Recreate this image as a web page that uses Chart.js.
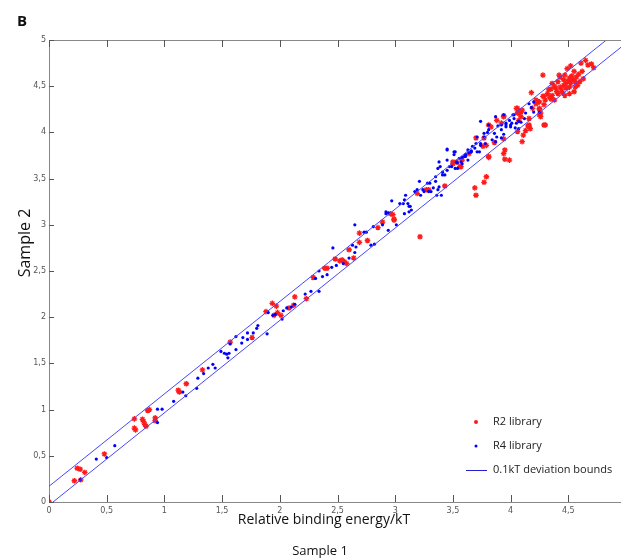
<!DOCTYPE html>
<html>
<head>
<meta charset="utf-8">
<script src="https://cdn.jsdelivr.net/npm/chart.js@4.4.1/dist/chart.umd.min.js"></script>
<style>
  html, body { margin: 0; padding: 0; background: #fff; overflow: hidden; }
  #wrap { width: 640px; height: 559px; }
</style>
</head>
<body>
<div id="wrap"><canvas id="chart" width="640" height="559"></canvas></div>
<script>
// --- data ---
const xTicks = [0, 0.5, 1, 1.5, 2, 2.5, 3, 3.5, 4, 4.5, 5];
const yTicks = [0, 0.5, 1, 1.5, 2, 2.5, 3, 3.5, 4, 4.5, 5];

// R2 library (red), pairs [sample1, sample2]
const r2Points = [
  [0, 0], [0.22, 0.23], [0.245, 0.365], [0.27, 0.355], [0.275, 0.24], [0.31, 0.32],
  [0.48, 0.52], [0.74, 0.90], [0.74, 0.80], [0.75, 0.78], [0.81, 0.895], [0.82, 0.87],
  [0.83, 0.84], [0.84, 0.82], [0.855, 0.99], [0.87, 1.00], [0.92, 0.91], [0.92, 0.88],
  [1.12, 1.21], [1.13, 1.19], [1.19, 1.28], [1.33, 1.43], [1.57, 1.73], [1.76, 1.78],
  [1.88, 2.06], [1.935, 2.15], [1.97, 2.12], [1.95, 2.02], [1.98, 2.05], [2.01, 2.02],
  [2.08, 2.10], [2.13, 2.22], [2.12, 2.13], [2.23, 2.20], [2.29, 2.43], [2.39, 2.53],
  [2.41, 2.53], [2.48, 2.63], [2.52, 2.61], [2.54, 2.62], [2.56, 2.60], [2.58, 2.58],
  [2.60, 2.73], [2.64, 2.64], [2.69, 2.91], [2.69, 2.81], [2.76, 2.83], [2.85, 2.97],
  [2.89, 3.03], [2.96, 3.12], [2.99, 3.05], [2.98, 3.11], [2.99, 3.06], [3.19, 3.34],
  [3.215, 2.87], [3.27, 3.38], [3.29, 3.38], [3.43, 3.42], [3.50, 3.66], [3.53, 3.68],
  [3.56, 3.63], [3.58, 3.70], [3.50, 3.68], [3.57, 3.63], [3.64, 3.77], [3.70, 3.94],
  [3.69, 3.40], [3.70, 3.32], [3.77, 3.46], [3.79, 3.52], [3.76, 3.85], [3.79, 3.86],
  [3.81, 3.73], [3.86, 3.89], [3.88, 4.13], [3.94, 4.17], [3.94, 3.93], [3.95, 3.81],
  [3.95, 3.71], [3.81, 4.08], [3.83, 4.06], [3.92, 4.10], [3.77, 3.94], [3.94, 3.77],
  [3.99, 3.70], [3.81, 3.74], [4.07, 4.13], [4.06, 4.26], [4.09, 4.22], [4.10, 3.90],
  [4.11, 3.97], [4.13, 4.02], [4.15, 4.07], [4.17, 4.04], [4.18, 4.43], [4.22, 4.35],
  [4.24, 4.33], [4.25, 4.25], [4.26, 4.21], [4.26, 4.17], [4.28, 4.62], [4.29, 4.39],
  [4.30, 4.08], [4.05, 4.26], [4.07, 4.21], [4.16, 4.06], [4.06, 4.01],
  [4.49, 4.69], [4.52, 4.72], [4.61, 4.75], [4.65, 4.78], [4.67, 4.73], [4.55, 4.66],
  [4.59, 4.63], [4.43, 4.60], [4.46, 4.57], [4.51, 4.59], [4.54, 4.57], [4.48, 4.53],
  [4.52, 4.53], [4.56, 4.55], [4.41, 4.55], [4.36, 4.53], [4.43, 4.49], [4.39, 4.48],
  [4.48, 4.48], [4.51, 4.49], [4.58, 4.51], [4.33, 4.46], [4.41, 4.42], [4.45, 4.43],
  [4.36, 4.40], [4.32, 4.42], [4.28, 4.39], [4.30, 4.35], [4.25, 4.33], [4.35, 4.36],
  [4.51, 4.42], [4.55, 4.44], [4.22, 4.31], [4.19, 4.26], [4.25, 4.26], [4.29, 4.30],
  [4.10, 4.24], [4.06, 4.21], [4.09, 4.17], [4.16, 4.15], [4.25, 4.19], [3.94, 4.18],
  [4.16, 4.08], [4.29, 4.08], [4.38, 4.50], [4.46, 4.51], [4.50, 4.56], [4.53, 4.61],
  [4.57, 4.60], [4.44, 4.46], [4.40, 4.44], [4.47, 4.40], [4.34, 4.38], [4.38, 4.35],
  [4.62, 4.66], [4.70, 4.74], [4.72, 4.70], [4.63, 4.58], [4.42, 4.62], [4.35, 4.47],
  [4.47, 4.62], [4.56, 4.49], [4.60, 4.55]
];

// R4 library (blue)
const r4Points = [
  [0.27, 0.24], [0.41, 0.465], [0.50, 0.48], [0.57, 0.61], [0.94, 1.005], [0.98, 1.005],
  [0.94, 0.86], [1.08, 1.09], [1.16, 1.19], [1.185, 1.15], [1.28, 1.23], [1.29, 1.34],
  [1.34, 1.39], [1.38, 1.45], [1.42, 1.49], [1.44, 1.45], [1.49, 1.63], [1.52, 1.61],
  [1.54, 1.60], [1.56, 1.61], [1.55, 1.56], [1.57, 1.71], [1.62, 1.65], [1.62, 1.79],
  [1.68, 1.78], [1.67, 1.72], [1.72, 1.83], [1.72, 1.76], [1.77, 1.83], [1.80, 1.88],
  [1.81, 1.91], [1.89, 1.82], [1.90, 2.05], [1.94, 2.02], [1.96, 2.03], [2.02, 1.98],
  [2.06, 2.10], [2.03, 2.07], [2.10, 2.11], [2.13, 2.14], [2.22, 2.25], [2.27, 2.28],
  [2.34, 2.28], [2.31, 2.42], [2.34, 2.50], [2.37, 2.44], [2.41, 2.46], [2.45, 2.54],
  [2.46, 2.75], [2.49, 2.56], [2.55, 2.58], [2.60, 2.64], [2.65, 2.70], [2.63, 2.78],
  [2.66, 2.76], [2.65, 3.00], [2.73, 2.92], [2.75, 2.92], [2.79, 2.78], [2.82, 2.79],
  [2.81, 2.98], [2.89, 3.00], [2.94, 2.94], [2.92, 3.12], [2.94, 3.13], [3.01, 3.00],
  [2.97, 3.26], [3.07, 3.23], [3.09, 3.32], [3.12, 3.20], [3.12, 3.14], [3.08, 3.12],
  [3.19, 3.38], [3.21, 3.47], [3.25, 3.36], [3.37, 3.38], [3.36, 3.32], [2.92, 3.14],
  [3.04, 3.23], [3.08, 3.27], [3.11, 3.23], [3.13, 3.20], [3.14, 3.16], [3.17, 3.36],
  [3.24, 3.38], [3.22, 3.32], [3.29, 3.36], [3.31, 3.36], [3.38, 3.41], [3.40, 3.32],
  [3.35, 3.52], [3.37, 3.61], [3.39, 3.63], [3.41, 3.57], [3.41, 3.54], [3.43, 3.54],
  [3.45, 3.59], [3.45, 3.70], [3.45, 3.82], [3.51, 3.76], [3.52, 3.79], [3.54, 3.67],
  [3.60, 3.74], [3.61, 3.76], [3.63, 3.70], [3.63, 3.81], [3.64, 3.78], [3.66, 3.79],
  [3.49, 3.63], [3.52, 3.61], [3.54, 3.61], [3.58, 3.73], [3.67, 3.85], [3.70, 3.88],
  [3.71, 3.79], [3.74, 4.12], [3.74, 3.86], [3.77, 3.95], [3.81, 4.03], [3.86, 3.99],
  [3.87, 3.90], [3.89, 4.07], [3.92, 4.03], [3.96, 4.06], [3.99, 4.13], [4.01, 4.10],
  [4.02, 4.19], [4.05, 4.10], [4.04, 4.05], [4.18, 4.27], [4.20, 4.33], [4.16, 4.31],
  [4.20, 4.22], [4.12, 4.15], [4.07, 4.12], [4.03, 4.19], [3.96, 4.08], [3.92, 4.08],
  [4.00, 4.08], [4.25, 4.22], [3.81, 4.08], [3.87, 4.17], [3.94, 4.19], [3.96, 4.10],
  [4.00, 4.06], [4.03, 4.15], [4.07, 4.04], [4.13, 4.21], [4.09, 4.11], [3.71, 3.95],
  [3.77, 3.99], [3.80, 4.00], [3.74, 3.88], [3.78, 3.88], [3.84, 3.92], [3.88, 3.95],
  [3.92, 3.94], [3.94, 3.98], [3.69, 3.83], [3.73, 3.79], [3.66, 3.80], [3.61, 3.74],
  [3.555, 3.72], [3.51, 3.79], [3.45, 3.81], [3.53, 3.68], [3.58, 3.66], [3.47, 3.63],
  [3.38, 3.68], [3.57, 3.68], [3.30, 3.45], [3.28, 3.45], [3.33, 3.40], [3.35, 3.47]
];

// 0.1kT deviation bounds (end points of the two straight lines)
const upperBound = [[0, 0.17], [5, 5.17]];
const lowerBound = [[0, -0.035], [5, 4.965]];

const toXY = arr => arr.map(p => ({ x: p[0], y: p[1] }));
const comma = v => String(v).replace('.', ',');

// top frame line and inward ticks
const frame = {
  id: 'frame',
  afterDatasetsDraw(chart) {
    const { ctx, chartArea: a, scales: { x, y } } = chart;
    ctx.save();
    ctx.lineWidth = 1;
    ctx.strokeStyle = '#888';
    ctx.beginPath();
    ctx.moveTo(a.left, a.top + 0.5);
    ctx.lineTo(a.right, a.top + 0.5);
    ctx.stroke();

    ctx.strokeStyle = '#555';
    ctx.beginPath();
    for (const v of xTicks) {
      const px = Math.round(x.getPixelForValue(v)) + 0.5;
      ctx.moveTo(px, a.bottom);
      ctx.lineTo(px, a.bottom - 7);
      ctx.moveTo(px, a.top);
      ctx.lineTo(px, a.top + 7);
    }
    for (const v of yTicks) {
      const py = Math.round(y.getPixelForValue(v)) + 0.5;
      ctx.moveTo(a.left, py);
      ctx.lineTo(a.left + 5, py);
    }
    ctx.stroke();
    ctx.restore();
  }
};

// free texts and the legend box
const labels = {
  id: 'labels',
  afterDraw(chart) {
    const { ctx } = chart;
    ctx.save();
    ctx.fillStyle = '#111';
    ctx.font = 'bold 15px "Open Sans"';
    ctx.textAlign = 'left';
    ctx.textBaseline = 'alphabetic';
    ctx.fillText('B', 17, 26);

    ctx.font = '14px "Open Sans"';
    ctx.textAlign = 'center';
    ctx.fillText('Relative binding energy/kT', 324, 524);
    ctx.font = '13px "Open Sans"';
    ctx.fillText('Sample 1', 320, 555);

    ctx.save();
    ctx.translate(30, 243);
    ctx.rotate(-Math.PI / 2);
    ctx.font = '16px "Open Sans"';
    ctx.fillText('Sample 2', 0, 0);
    ctx.restore();

    const ds = chart.data.datasets;
    const rows = [422, 446, 470];
    ctx.font = '11px "Open Sans"';
    ctx.textAlign = 'left';
    ctx.textBaseline = 'middle';
    rows.forEach((ry, i) => {
      const d = ds[i];
      if (i < 2) {
        ctx.fillStyle = d.pointBorderColor;
        ctx.beginPath();
        ctx.arc(476, ry, i === 0 ? 2 : 1.5, 0, Math.PI * 2);
        ctx.fill();
      } else {
        ctx.strokeStyle = '#2020d0';
        ctx.lineWidth = 1;
        ctx.beginPath();
        ctx.moveTo(466, ry + 0.5);
        ctx.lineTo(487, ry + 0.5);
        ctx.stroke();
      }
      ctx.fillStyle = '#222';
      ctx.fillText(d.label, 493, ry);
    });
    ctx.restore();
  }
};

new Chart(document.getElementById('chart'), {
  type: 'scatter',
  data: {
    datasets: [
      {
        label: 'R2 library',
        data: toXY(r2Points),
        pointStyle: 'star',
        pointRadius: 2.8,
        pointBorderWidth: 1.3,
        pointBorderColor: '#ff1a1a',
        pointBackgroundColor: '#ff1a1a',
        order: 3
      },
      {
        label: 'R4 library',
        data: toXY(r4Points),
        pointStyle: 'circle',
        pointRadius: 1.6,
        pointBorderWidth: 0,
        pointBorderColor: '#0000ff',
        pointBackgroundColor: '#0000ff',
        order: 2
      },
      {
        label: '0.1kT deviation bounds',
        type: 'line',
        data: toXY(upperBound),
        borderColor: '#4646ff',
        borderWidth: 1,
        pointRadius: 0,
        order: 1
      },
      {
        label: 'lower bound',
        type: 'line',
        data: toXY(lowerBound),
        borderColor: '#4646ff',
        borderWidth: 1,
        pointRadius: 0,
        order: 1
      }
    ]
  },
  options: {
    responsive: false,
    animation: false,
    events: [],
    layout: { padding: { left: 0, top: 40, right: 14, bottom: 0 } },
    plugins: { legend: { display: false }, tooltip: { enabled: false } },
    scales: {
      x: {
        type: 'linear', min: 0, max: 5,
        afterFit: s => { s.height = 57; },
        afterBuildTicks: s => { s.ticks = xTicks.map(v => ({ value: v })); },
        grid: { display: false, drawTicks: false },
        border: { display: true, color: '#888', width: 1 },
        ticks: { padding: 4, color: '#555', font: { size: 8, family: 'DejaVu Sans' }, maxRotation: 0, callback: comma }
      },
      y: {
        type: 'linear', min: 0, max: 5,
        afterFit: s => { s.width = 49; },
        afterBuildTicks: s => { s.ticks = yTicks.map(v => ({ value: v })); },
        grid: { display: false, drawTicks: false },
        border: { display: true, color: '#888', width: 1 },
        ticks: { padding: 3, color: '#555', font: { size: 8, family: 'DejaVu Sans' }, callback: comma }
      }
    }
  },
  plugins: [frame, labels]
});
</script>
</body>
</html>
